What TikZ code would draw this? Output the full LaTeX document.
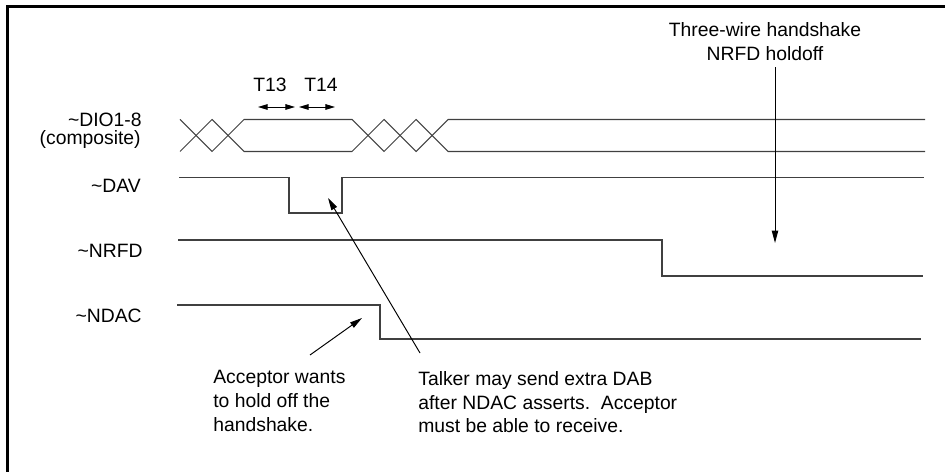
\documentclass[tikz,border=0pt]{standalone}
\usepackage{fontspec}
\setmainfont{Liberation Sans}
\usetikzlibrary{arrows.meta,positioning}

\begin{document}
\begin{tikzpicture}[x=0.02cm,y=-0.02cm,
			txt/.style={inner sep=0pt,font=\fontsize{11}{13.5}\selectfont},
			siglabel/.style={txt,anchor=base east},
			note/.style={txt,anchor=north west,align=left},
			signal/.style={draw=black!75,line width=0.6pt},
			pointer/.style={draw,line width=0.55pt,-{Triangle[length=7pt,width=3.6pt]}},
			span/.style={draw,line width=0.55pt,{Triangle[length=5.5pt,width=3.2pt]}-{Triangle[length=5.5pt,width=3.2pt]}}]
			\useasboundingbox (0,0) rectangle (945,472);
			\draw [line width=1.7pt] (7.5,472) -- (7.5,6.5) -- (945,6.5);

			% signal names
			\node (dio) [siglabel] at (142,127) {\textasciitilde DIO1-8};
			\node (composite) [siglabel] at (141,145) {(composite)};
			\node (dav) [siglabel] at (141,193) {\textasciitilde DAV};
			\node (nrfd) [siglabel] at (143,257.5) {\textasciitilde NRFD};
			\node (ndac) [siglabel] at (142,322.5) {\textasciitilde NDAC};

			% waveforms
			\draw [signal] (180,119.5) -- (212,151.5) -- (244,119.5) -- (352,119.5) -- (384,151.5) -- (416,119.5) -- (448,151.5) -- (925,151.5);
			\draw [signal] (180,151.5) -- (212,119.5) -- (244,151.5) -- (352,151.5) -- (384,119.5) -- (416,151.5) -- (448,119.5) -- (925,119.5);
			\draw [signal] (179,177.5) -- (289,177.5) -- (289,213) -- (342,213) -- (342,177.5) -- (924,177.5);
			\draw [signal] (178,240) -- (662,240) -- (662,276) -- (923,276);
			\draw [signal] (177,305) -- (380,305) -- (380,339) -- (921,339);

			% timing marks
			\node (t13) [txt,anchor=base] at (270,92) {T13};
			\node (t14) [txt,anchor=base] at (321,92) {T14};
			\coordinate (t13a) at (258,107);
			\coordinate (t13b) at (295,107);
			\coordinate (t14a) at (299,107);
			\coordinate (t14b) at (335,107);
			\draw [span] (t13a) -- (t13b);
			\draw [span] (t14a) -- (t14b);

			% notes
			\node (wirenote) [txt,anchor=north,align=center] at (765,22.5) {Three-wire handshake\\NRFD holdoff};
			\node (acceptor) [note] at (213,370) {Acceptor wants\\to hold off the\\handshake.};
			\node (talker) [note] at (418,371) {Talker may send extra DAB\\after NDAC asserts.\ \ Acceptor\\must be able to receive.};
			\coordinate (nrfdtip) at (775,243);
			\coordinate (ndactip) at (362,318);
			\coordinate (davtip) at (328,198);
			\draw [pointer] (wirenote.south -| nrfdtip) ++(0,6) -- (nrfdtip);
			\draw [pointer] ([shift={(97,-15)}]acceptor.north west) -- (ndactip);
			\draw [pointer] ([shift={(2,-18)}]talker.north west) -- (davtip);
		\end{tikzpicture}
\end{document}
